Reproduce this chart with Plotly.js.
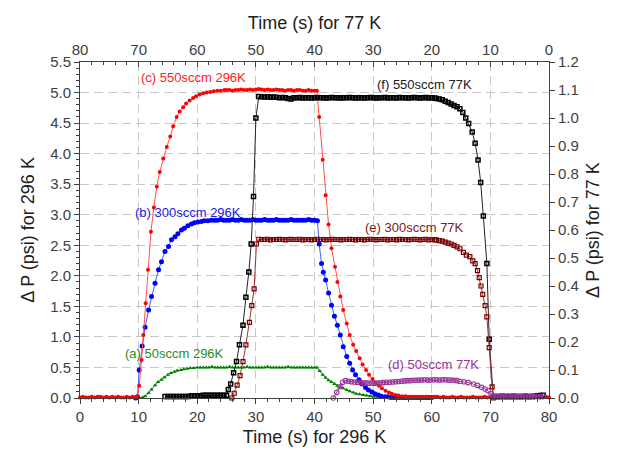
<!DOCTYPE html>
<html>
<head>
<meta charset="utf-8">
<script src="https://cdn.plot.ly/plotly-3.0.1.min.js"></script>
<style>html,body{margin:0;padding:0;background:#fff;}#chart{width:617px;height:457px;}</style>
</head>
<body>
<div id="chart"></div>
<script>
// ---------- 296 K series (bottom time axis, left pressure axis) ----------
// (c) 550 sccm 296K
const t_c = [0,0.5,1,1.5,2,2.5,3,3.5,4,4.5,5,5.5,6,6.5,7,7.5,8,8.5,9,9.5,
  9.8,10.1,10.5,10.8,11.2,11.6,12.1,12.6,13.1,13.6,14.2,14.8,15.4,15.9,16.5,17,17.6,18.1,18.7,19.3,19.8,20.4,21,21.6,22.2,22.8,23.4,24,24.6,
  25,25.5,26,26.5,27,27.5,28,28.5,29,29.5,30,30.5,31,31.5,32,32.5,33,33.5,34,34.5,35,35.5,36,36.5,37,37.5,38,38.5,39,39.5,40,
  40.4,40.8,41.4,41.9,42.4,42.9,43.5,43.9,44.4,44.9,45.5,46,46.6,47.1,47.7,48.2,48.8,49.3,49.9,50.4,51,51.5,52.1,52.7,53.2,53.8,54.3,54.9,55.5,
  56,56.5,57,57.5,58,58.5,59,59.5,60,60.5,61,61.5,62,62.5,63,63.5,64,64.5,65,65.5,66,66.5,67,67.5,68,68.5,69,69.5,70,70.5,71,71.5,72,72.5,73,73.5,74,74.5,75,75.5,76,76.5,77,77.5,78,78.5,79,79.5,80];
const p_c = [0.01,0.02,0.01,0.01,0.02,0.01,0.02,0.02,0.01,0.02,0.01,0.02,0.01,0.02,0.01,0.01,0.02,0.01,0.02,0.01,
  0.03,0.20,0.62,1.03,1.55,2.10,2.72,3.12,3.46,3.70,3.92,4.11,4.28,4.45,4.60,4.69,4.76,4.82,4.87,4.91,4.94,4.97,4.99,5.00,5.01,5.02,5.03,5.03,5.04,
  5.04,5.04,5.03,5.04,5.04,5.05,5.04,5.04,5.05,5.04,5.05,5.06,5.05,5.04,5.05,5.04,5.04,5.05,5.04,5.04,5.03,5.04,5.04,5.03,5.04,5.04,5.03,5.03,5.04,5.03,5.03,
  5.03,4.60,3.90,3.32,2.84,2.45,2.15,1.90,1.66,1.44,1.22,1.03,0.87,0.77,0.65,0.55,0.46,0.38,0.31,0.25,0.20,0.16,0.12,0.09,0.07,0.05,0.04,0.03,0.03,
  0.02,0.02,0.02,0.02,0.02,0.02,0.02,0.02,0.01,0.02,0.02,0.01,0.02,0.01,0.01,0.02,0.01,0.01,0.02,0.01,0.01,0.01,0.02,0.01,0.01,0.01,0.02,0.01,0.01,0.01,0.01,0.02,0.01,0.01,0.01,0.01,0.02,0.01,0.01,0.01,0.01,0.01,0.02,0.01,0.01,0.01,0.01,0.02,0.01];

// (b) 300 sccm 296K
const t_b = [9.5,9.8,10.1,10.6,11.1,11.7,12.2,12.8,13.4,13.9,14.5,15.1,15.6,16.2,16.7,17.3,17.8,18.4,19,19.5,20.1,20.7,21.2,21.8,22.4,
  23,23.5,24,24.5,25,25.5,26,26.5,27,27.5,28,28.5,29,29.5,30,30.5,31,31.5,32,32.5,33,33.5,34,34.5,35,35.5,36,36.5,37,37.5,38,38.5,39,39.5,40,
  40.5,40.8,41.2,41.5,41.9,42.4,42.9,43.4,43.9,44.4,44.9,45.5,46,46.5,47,47.6,48.1,48.7,49.2,49.8,50.3,50.9,51.4,52,52.5,
  53,53.5,54,54.5,55,55.5,56,56.5,57,57.5,58,58.5,59,59.5,60];
const p_b = [0,0.02,0.46,0.85,1.16,1.44,1.66,1.88,2.10,2.23,2.40,2.48,2.59,2.64,2.69,2.75,2.78,2.82,2.85,2.87,2.88,2.89,2.90,2.90,2.91,
  2.91,2.91,2.92,2.91,2.91,2.91,2.92,2.91,2.91,2.92,2.91,2.91,2.91,2.92,2.91,2.91,2.91,2.92,2.91,2.91,2.91,2.92,2.91,2.91,2.91,2.91,2.92,2.91,2.91,2.91,2.91,2.91,2.92,2.91,2.91,
  2.90,2.52,2.20,2.06,1.93,1.72,1.52,1.34,1.19,1.03,0.84,0.68,0.57,0.46,0.38,0.30,0.23,0.17,0.13,0.10,0.07,0.05,0.03,0.02,0.02,
  0.01,0.01,0.01,0.01,0.01,0.01,0.01,0.01,0.01,0.01,0.01,0.01,0.01,0.01,0.01];

// (a) 50 sccm 296K
const t_a = [9.5,10.2,10.7,11.1,11.7,12.2,12.8,13.3,13.9,14.4,15,15.5,16.1,16.6,17.2,17.7,18.3,18.8,19.4,20,
  20.5,21,21.5,22,22.5,23,23.5,24,24.5,25,25.5,26,26.5,27,27.5,28,28.5,29,29.5,30,30.5,31,31.5,32,32.5,33,33.5,34,34.5,35,35.5,36,36.5,37,37.5,38,38.5,39,39.5,40,
  40.4,40.9,41.4,41.9,42.4,42.9,43.4,43.9,44.4,44.9,45.5,46,46.6,47.1,47.7,48.3,48.9,49.5,50.1,50.7,51.3,51.9,52.5,53.1,53.7,54.3,55,55.7];
const p_a = [0,0,0.01,0.03,0.08,0.14,0.21,0.26,0.30,0.34,0.38,0.41,0.43,0.45,0.46,0.47,0.48,0.49,0.49,0.50,
  0.50,0.50,0.50,0.50,0.51,0.50,0.50,0.50,0.50,0.50,0.51,0.50,0.50,0.50,0.50,0.50,0.51,0.50,0.50,0.50,0.50,0.50,0.50,0.51,0.50,0.50,0.50,0.50,0.50,0.50,0.51,0.50,0.50,0.50,0.50,0.50,0.50,0.50,0.50,0.50,
  0.50,0.44,0.38,0.33,0.29,0.26,0.23,0.20,0.18,0.16,0.13,0.11,0.09,0.07,0.06,0.05,0.04,0.03,0.02,0.02,0.01,0.01,0.01,0.01,0.01,0,0,0];

// ---------- 77 K series (top time axis, reversed; right pressure axis) ----------
// (f) 550 sccm 77K
const t_f = [1,1.5,2,2.5,3,3.5,4,4.5,5,5.5,6,6.5,7,7.5,8,8.5,9,9.5,
  10.2,10.6,11.2,11.65,12.1,12.6,13.1,13.7,14.2,14.7,15.2,15.7,16.2,16.7,17.2,17.7,18.2,18.7,19.2,
  19.5,20,20.5,21,21.5,22,22.5,23,23.5,24,24.5,25,25.5,26,26.5,27,27.5,28,28.5,29,29.5,30,30.5,31,31.5,32,32.5,33,33.5,34,34.5,35,35.5,36,36.5,37,37.5,38,38.5,39,39.5,40,40.5,41,41.5,42,42.5,43,43.5,44,44.5,45,45.5,46,46.5,47,47.5,48,48.5,49,49.5,
  50,50.4,50.8,51.2,51.7,52.2,52.8,53.3,53.8,54.3,54.7,55,
  55.5,56,56.5,57,57.5,58,58.5,59,59.5,60,60.5,61,61.5,62,62.5,63,63.5,64,64.5,65,65.5];
const p_f = [0.01,0.009,0.008,0.006,0.005,0.005,0.006,0.005,0.005,0.005,0.006,0.005,0.005,0.005,0.006,0.005,0.005,0.005,
  0.21,0.48,0.65,0.77,0.85,0.91,0.95,0.98,1.00,1.02,1.033,1.04,1.045,1.05,1.055,1.06,1.065,1.068,1.07,
  1.071,1.072,1.071,1.073,1.072,1.071,1.072,1.073,1.072,1.071,1.072,1.072,1.073,1.071,1.072,1.072,1.071,1.073,1.072,1.072,1.071,1.072,1.073,1.072,1.071,1.072,1.072,1.071,1.072,1.073,1.072,1.072,1.071,1.072,1.072,1.073,1.072,1.071,1.072,1.072,1.073,1.072,1.071,1.072,1.072,1.071,1.073,1.072,1.072,1.068,1.070,1.072,1.073,1.072,1.074,1.075,1.074,1.076,1.075,1.076,1.077,
  1.0,0.72,0.55,0.45,0.36,0.26,0.19,0.13,0.09,0.05,0.03,0.01,
  0.01,0.01,0.01,0.01,0.01,0.01,0.01,0.01,0.008,0.008,0.008,0.008,0.005,0.005,0.005,0.005,0.005,0.005,0.005,0.005,0.005];

// (e) 300 sccm 77K
const t_e = [9.5,9.7,10.2,10.6,10.9,11.3,11.6,11.9,12.2,12.6,13,13.5,14.1,14.6,15.2,15.7,16.2,16.7,17.2,17.7,18.2,18.7,19.2,
  19.5,20,20.5,21,21.5,22,22.5,23,23.5,24,24.5,25,25.5,26,26.5,27,27.5,28,28.5,29,29.5,30,30.5,31,31.5,32,32.5,33,33.5,34,34.5,35,35.5,36,36.5,37,37.5,38,38.5,39,39.5,40,40.5,41,41.5,42,42.5,43,43.5,44,44.5,45,45.5,46,46.5,47,47.5,48,48.5,49,49.5,
  49.9,50.3,50.7,51.1,51.7,52.2,52.7,53.2,53.7,54.1];
const p_e = [0,0.04,0.18,0.29,0.33,0.37,0.40,0.43,0.455,0.48,0.49,0.505,0.51,0.52,0.533,0.54,0.545,0.55,0.553,0.557,0.56,0.562,0.565,
  0.565,0.566,0.565,0.567,0.566,0.565,0.566,0.567,0.566,0.565,0.566,0.566,0.567,0.565,0.566,0.566,0.565,0.567,0.566,0.566,0.565,0.566,0.567,0.566,0.565,0.566,0.566,0.565,0.566,0.567,0.566,0.566,0.565,0.566,0.566,0.567,0.566,0.565,0.566,0.566,0.567,0.566,0.565,0.566,0.566,0.565,0.567,0.566,0.566,0.567,0.566,0.565,0.566,0.567,0.566,0.566,0.565,0.567,0.566,0.566,0.567,
  0.55,0.39,0.33,0.27,0.19,0.13,0.08,0.046,0.017,0];

// (d) 50 sccm 77K
const t_d = [1,1.5,2,2.5,3,3.5,4,4.5,5,5.5,6,6.5,7,7.5,8,8.5,9,9.5,
  9.9,10.4,10.9,11.5,12.2,12.9,13.8,14.5,15.2,
  15.7,16.2,16.7,17.2,17.7,18.2,18.7,19.2,19.7,20.2,20.7,21.2,21.7,22.2,22.7,23.2,23.7,24.2,24.7,25.2,25.7,
  26.2,26.7,27.2,27.7,28.2,28.7,29.2,29.7,30.2,30.7,31.2,31.7,32.2,32.7,33.2,33.7,
  34.2,34.7,35.2,35.65,36.2,36.8];
const p_d = [0.007,0.005,0.006,0.005,0.005,0.004,0.006,0.005,0.005,0.005,0.004,0.005,0.006,0.005,0.005,0.004,0.005,0.005,
  0.015,0.026,0.032,0.038,0.045,0.050,0.055,0.058,0.060,
  0.062,0.063,0.064,0.064,0.065,0.065,0.064,0.065,0.065,0.064,0.064,0.065,0.064,0.064,0.063,0.063,0.062,0.062,0.061,0.060,0.059,
  0.058,0.057,0.056,0.056,0.055,0.054,0.053,0.053,0.053,0.053,0.054,0.054,0.055,0.056,0.057,0.058,
  0.060,0.062,0.056,0.040,0.020,0];

// ---------- text ----------
const labelText = ['(c) 550sccm 296K','(b) 300sccm 296K','(a) 50sccm 296K','(f) 550sccm 77K','(e) 300sccm 77K','(d) 50sccm 77K'];
const titleBottom = 'Time (s) for 296 K';
const titleTop = 'Time (s) for 77 K';
const titleLeft = '\u0394 P (psi) for 296 K';
const titleRight = '\u0394 P (psi) for 77 K';

const FONT = 'Liberation Sans, Arial, sans-serif';

function tr(x, y, xa, ya, lineColor, mColor, symbol, size, lw) {
  return {x: x, y: y, xaxis: xa, yaxis: ya, type: 'scatter', mode: 'lines+markers', cliponaxis: false,
    line: {color: lineColor, width: 1},
    marker: {color: mColor, symbol: symbol, size: size, line: {color: mColor, width: lw}},
    showlegend: false, hoverinfo: 'skip'};
}

const data = [
  tr(t_f, p_f, 'x2', 'y2', '#222222', '#000000', 'square-open', 4, 1.5),
  tr(t_e, p_e, 'x2', 'y2', '#a03030', '#7a0000', 'square-open', 4, 1.2),
  tr(t_d, p_d, 'x2', 'y2', '#a040a0', '#993399', 'circle-open', 4.5, 1.1),
  tr(t_a, p_a, 'x', 'y', '#109010', '#008000', 'triangle-up', 4, 0),
  tr(t_b, p_b, 'x', 'y', '#4060ff', '#0000ff', 'circle', 5, 0),
  tr(t_c, p_c, 'x', 'y', '#ff5050', '#ff0000', 'circle', 4, 0)
];

const lab = (text, x, y, xref, yref, color) => ({text: text, x: x, y: y, xref: xref, yref: yref, showarrow: false,
  font: {family: FONT, size: 13, color: color}, xanchor: 'center', yanchor: 'middle'});

const annotations = [
  lab(labelText[0], 19.3, 5.24, 'x', 'y', '#ff2020'),
  lab(labelText[1], 18.5, 3.03, 'x', 'y', '#2020e0'),
  lab(labelText[2], 16.2, 0.73, 'x', 'y', '#2a8a2a'),
  lab(labelText[3], 21.2, 1.12, 'x2', 'y2', '#202020'),
  lab(labelText[4], 23.0, 0.61, 'x2', 'y2', '#7a1a1a'),
  lab(labelText[5], 19.7, 0.118, 'x2', 'y2', '#993399')
];

const tickFont = {family: FONT, size: 15, color: '#404040'};
const titleFont = {family: FONT, size: 18, color: '#202020'};
const AX = '#404040';

const layout = {
  width: 617, height: 457,
  margin: {l: 80, r: 68, t: 62, b: 59},
  paper_bgcolor: '#ffffff', plot_bgcolor: '#ffffff',
  showlegend: false,
  font: {family: FONT},
  xaxis: {range: [0, 80], tick0: 0, dtick: 10, ticks: 'outside', ticklen: 5, tickcolor: AX,
    minor: {dtick: 2, ticks: 'outside', ticklen: 3, tickcolor: AX, showgrid: false},
    showgrid: true, gridcolor: '#c8c8c8', griddash: '9px,5px', gridwidth: 1,
    showline: true, linecolor: AX, linewidth: 1, zeroline: false, tickfont: tickFont,
    title: {text: titleBottom, font: titleFont, standoff: 6}},
  xaxis2: {overlaying: 'x', side: 'top', range: [80, 0], tick0: 0, dtick: 10, ticks: 'inside', ticklen: 5, tickcolor: AX,
    minor: {dtick: 2, ticks: 'inside', ticklen: 3, tickcolor: AX, showgrid: false},
    showgrid: false, showline: true, linecolor: AX, linewidth: 1, zeroline: false, tickfont: tickFont,
    title: {text: titleTop, font: titleFont, standoff: 6}},
  yaxis: {range: [0, 5.5], tick0: 0, dtick: 0.5, tickformat: '.1f', ticks: 'outside', ticklen: 5, tickcolor: AX,
    minor: {dtick: 0.1, ticks: 'outside', ticklen: 3, tickcolor: AX, showgrid: false},
    showgrid: true, gridcolor: '#c8c8c8', griddash: '9px,5px', gridwidth: 1,
    showline: true, linecolor: AX, linewidth: 1, zeroline: false, tickfont: tickFont,
    title: {text: titleLeft, font: titleFont, standoff: 10}},
  yaxis2: {overlaying: 'y', side: 'right', range: [0, 1.2], tick0: 0, dtick: 0.1, tickformat: '.1f', ticks: 'outside', ticklen: 5, tickcolor: AX,
    showgrid: false, showline: true, linecolor: AX, linewidth: 1, zeroline: false, tickfont: tickFont,
    title: {text: titleRight, font: titleFont, standoff: 8}},
  annotations: annotations
};

Plotly.newPlot('chart', data, layout, {staticPlot: true, displayModeBar: false});
</script>
</body>
</html>
